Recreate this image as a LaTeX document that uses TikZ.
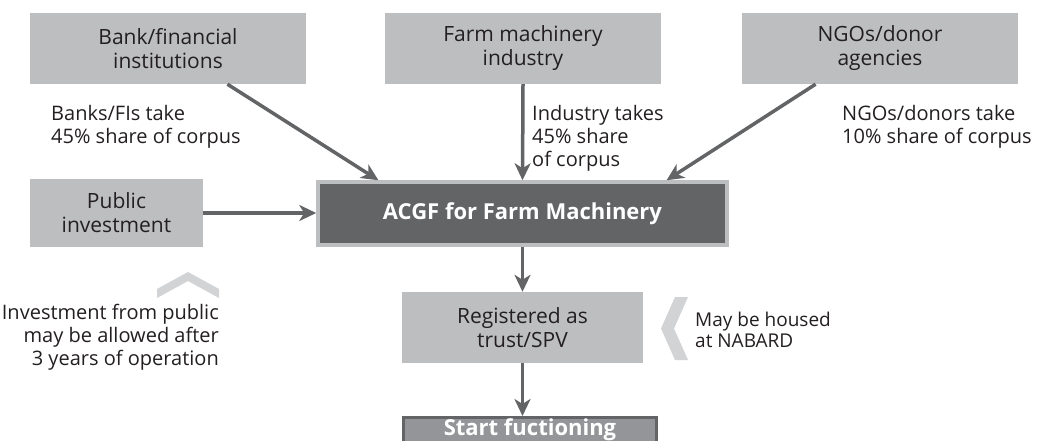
\documentclass[tikz,border=0pt]{standalone}
\usepackage{fontspec}
\setmainfont{Open Sans}
\usepackage{tikz}
\usetikzlibrary{arrows.meta, positioning, calc}
\usepackage{xcolor}
\definecolor{boxgray}{HTML}{BCBEC0}
\definecolor{acgfgray}{HTML}{636466}
\definecolor{midgray}{HTML}{939598}
\definecolor{chevgray}{HTML}{D1D3D4}
\definecolor{txtgray}{HTML}{231F20}

\begin{document}
\begin{tikzpicture}[x=1pt, y=-1pt,
    srcbox/.style={fill=boxgray, minimum width=276pt, minimum height=71pt, inner sep=0pt,
      align=center, text=txtgray, font=\fontsize{21}{24}\selectfont},
    flow/.style={draw=acgfgray, line width=3.5pt, -{Stealth[length=17pt, width=16pt, inset=5pt]}},
    note/.style={inner sep=0pt, text=txtgray, font=\fontsize{20}{23}\selectfont}]
  \useasboundingbox (0,0) rectangle (1051,441);
  % sources
  \node[srcbox] (bank) at (168,48.5) {Bank/financial\\institutions};
  \node[srcbox] (farm) at (523,48.5) {Farm machinery\\industry};
  \node[srcbox] (ngo) at (880,48.5) {NGOs/donor\\agencies};
  \node[srcbox, minimum width=173pt, minimum height=68pt] (public) at (116.5,213) {Public\\investment};
  % fund
  \node[draw=boxgray, line width=3.5pt, fill=acgfgray, minimum width=409pt, minimum height=63pt,
    text=white, font=\fontsize{22}{24}\selectfont\bfseries] (acgf) at (522.5,213.5) {ACGF for Farm Machinery};
  \node[srcbox, minimum width=241pt] (reg) at (522.5,327.5) {Registered as\\trust/SPV};
  \node[draw=acgfgray, line width=3pt, fill=midgray, minimum width=253pt, anchor=north,
    inner ysep=3pt, text height=15pt, text depth=6pt,
    text=white, font=\fontsize{22}{24}\selectfont\bfseries] (start) at (530,416) {Start fuctioning};
  % shares
  \node[note, anchor=north west, align=left] (banknote) at (51,105) {Banks/FIs take\\45\% share of corpus};
  \node[note, anchor=north west, align=left] (farmnote) at (532,105) {Industry takes\\45\% share\\of corpus};
  \node[note, anchor=north west, align=left] (ngonote) at (842,105) {NGOs/donors take\\10\% share of corpus};
  \node[note, anchor=north east, align=right] (pubnote) at (219,304) {Investment from public\\may be allowed after\\3 years of operation};
  \node[note, anchor=north west, align=left, font=\fontsize{19}{21}\selectfont] (nabnote) at (695,312) {May be housed\\at NABARD};
  % chevrons
  \fill[chevgray] (157,289) -- (188,272) -- (219,289) -- (219,298) -- (188,281) -- (157,298) -- cycle;
  \fill[chevgray] (675,297) -- (688,297) -- (674,328.5) -- (688,360) -- (675,360) -- (661,328.5) -- cycle;
  % arrows
  \draw[flow] (bank.-31) -- (acgf.167);
  \draw[flow] (farm.south) -- (acgf.north);
  \draw[flow] (ngo.209) -- (acgf.13);
  \draw[flow] (public.east) -- (public.east -| acgf.west);
  \draw[flow] (acgf.south) -- (reg.north);
  \draw[flow] (reg.south) -- (reg.south |- start.north);
\end{tikzpicture}
\end{document}
